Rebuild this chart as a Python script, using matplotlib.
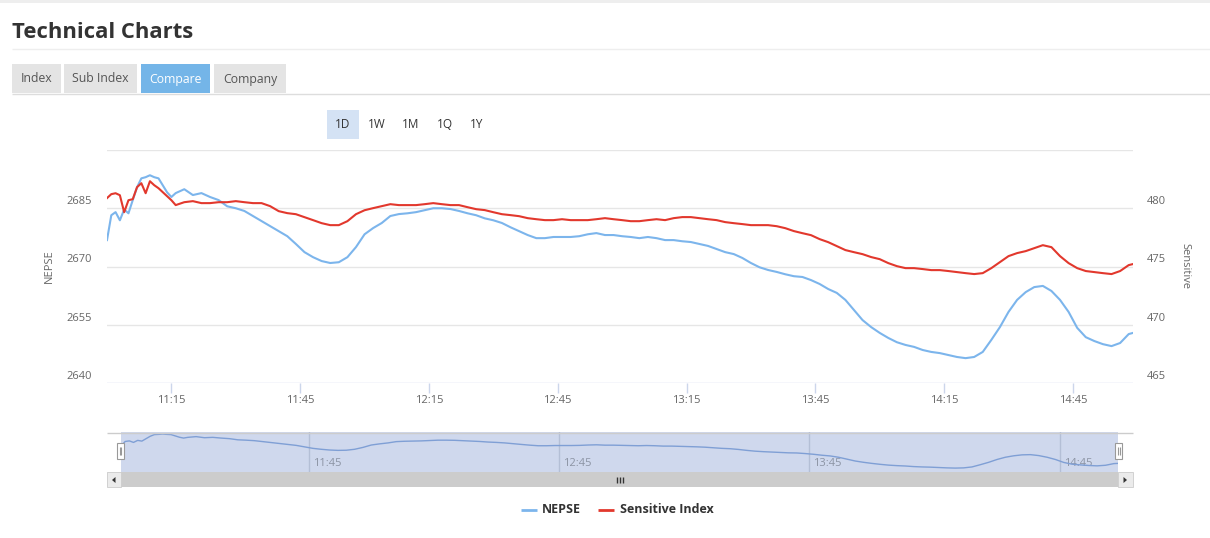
import matplotlib
matplotlib.use('Agg')
import matplotlib.pyplot as plt
from matplotlib.patches import Rectangle, Polygon
from matplotlib.lines import Line2D

plt.rcParams['font.family'] = ['Open Sans', 'DejaVu Sans']

# ---------------- data ----------------
# minutes after 11:00
minutes = [*range(0, 17), *range(18, 239, 2), 239]

nepse = [2676.8, 2683.2, 2684.0, 2681.9, 2684.7, 2683.7, 2687.1, 2690.4, 2692.7, 2693.0,
         2693.5, 2693.0, 2692.7, 2690.9, 2689.1, 2687.9, 2688.9,
         2689.9, 2688.4, 2688.9, 2687.9, 2687.1, 2685.5, 2685.0, 2684.3, 2683.0, 2681.7,
         2680.4, 2679.1, 2677.8, 2675.8, 2673.7, 2672.4, 2671.4, 2670.9, 2671.1, 2672.4,
         2675.0, 2678.3, 2679.9, 2681.2, 2683.0, 2683.5,
         2683.7, 2684.0, 2684.5, 2685.0, 2685.0, 2684.8, 2684.3, 2683.7, 2683.2, 2682.4,
         2681.9, 2681.2, 2680.1, 2679.1, 2678.1, 2677.3, 2677.3, 2677.6, 2677.6, 2677.6,
         2677.8, 2678.3, 2678.6, 2678.1, 2678.1, 2677.8, 2677.6, 2677.3, 2677.6, 2677.3,
         2676.8, 2676.8, 2676.5, 2676.3, 2675.8, 2675.3, 2674.5, 2673.7, 2673.2, 2672.2,
         2670.9, 2669.8, 2669.1, 2668.6, 2668.0, 2667.5, 2667.3, 2666.5, 2665.5, 2664.2,
         2663.2, 2661.4, 2658.8, 2656.2, 2654.4, 2652.9, 2651.6, 2650.5, 2649.8, 2649.3,
         2648.5, 2648.0, 2647.7, 2647.2, 2646.7, 2646.4, 2646.7, 2648.0, 2651.1, 2654.4,
         2658.3, 2661.4, 2663.4, 2664.7, 2665.0, 2663.7, 2661.4, 2658.3, 2654.2, 2651.8,
         2650.8, 2650.0, 2649.5, 2650.3, 2652.6,
         2652.9]

sensitive = [480.87, 481.21, 481.29, 481.12, 479.66, 480.69, 480.78, 481.81, 482.15, 481.29,
             482.32, 481.98, 481.72, 481.38, 481.04, 480.69, 480.27,
             480.52, 480.61, 480.44, 480.44, 480.52, 480.52, 480.61, 480.52, 480.44, 480.44,
             480.18, 479.75, 479.58, 479.49, 479.24, 478.98, 478.72, 478.55, 478.55, 478.89,
             479.49, 479.83, 480.01, 480.18, 480.35, 480.27,
             480.27, 480.27, 480.35, 480.44, 480.35, 480.27, 480.27, 480.09, 479.92, 479.84,
             479.66, 479.49, 479.41, 479.32, 479.15, 479.06, 478.98, 478.98, 479.06, 478.98,
             478.98, 478.98, 479.06, 479.15, 479.06, 478.98, 478.89, 478.89, 478.98, 479.06,
             478.98, 479.15, 479.24, 479.24, 479.15, 479.06, 478.98, 478.81, 478.72, 478.64,
             478.55, 478.55, 478.55, 478.46, 478.29, 478.04, 477.86, 477.69, 477.35, 477.09,
             476.75, 476.41, 476.23, 476.06, 475.81, 475.63, 475.29, 475.03, 474.86, 474.86,
             474.78, 474.69, 474.69, 474.61, 474.52, 474.43, 474.35, 474.43, 474.86, 475.38,
             475.89, 476.15, 476.32, 476.58, 476.83, 476.66, 475.89, 475.29, 474.86, 474.61,
             474.52, 474.43, 474.35, 474.61, 475.12,
             475.21]

x_tick_labels = ['11:15', '11:45', '12:15', '12:45', '13:15', '13:45', '14:15', '14:45']
nav_tick_labels = ['11:45', '12:45', '13:45', '14:45']
left_ticks = [2640, 2655, 2670, 2685]
right_ticks = [465, 470, 475, 480]
tab_labels = ['Index', 'Sub Index', 'Compare', 'Company']
range_labels = ['1D', '1W', '1M', '1Q', '1Y']
series_names = ['NEPSE', 'Sensitive Index']

assert len(minutes) == len(nepse) == len(sensitive)

BLUE = '#7cb5ec'
RED = '#e2382d'

# ---------------- helpers ----------------
W, H = 1210, 538
fig = plt.figure(figsize=(W / 100, H / 100), dpi=100)
fig.patch.set_facecolor('white')


def to_min(s):
    h, m = map(int, s.split(':'))
    return (h - 11) * 60 + m


def fbox(x0, y0, x1, y1):
    return [x0 / W, 1 - y1 / H, (x1 - x0) / W, (y1 - y0) / H]


def rect(x0, y0, x1, y1, fc, ec='none', lw=0, z=1):
    fig.add_artist(Rectangle((x0 / W, 1 - y1 / H), (x1 - x0) / W, (y1 - y0) / H,
                             transform=fig.transFigure, facecolor=fc, edgecolor=ec,
                             linewidth=lw, zorder=z))


def fline(xs, ys, color, lw=1, z=2):
    fig.add_artist(Line2D([x / W for x in xs], [1 - y / H for y in ys],
                          transform=fig.transFigure, color=color, lw=lw, zorder=z,
                          solid_capstyle='butt'))


def txt(x, y, s, **kw):
    fig.text(x / W, 1 - y / H, s, **kw)


# ---------------- page chrome ----------------
rect(0, 0, W, 3, '#eeeeee')
txt(12, 32, 'Technical Charts', fontsize=15.8, fontweight='bold', color='#333333',
    ha='left', va='center')
fline([12, W], [48.5, 48.5], '#eeeeee')

tab_spans = [(12, 61), (64, 137), (141, 210), (214, 286)]
for lab, (a, b) in zip(tab_labels, tab_spans):
    active = lab == 'Compare'
    rect(a, 64, b, 93, '#74b5e8' if active else '#e4e4e4')
    txt((a + b) / 2, 79, lab, fontsize=8.8, color='white' if active else '#555555',
        ha='center', va='center')
fline([12, W], [93.5, 93.5], '#dddddd')

range_x = [343, 377, 411, 445, 477]
rect(327, 110, 359, 139, '#d4e2f4')
for lab, xc in zip(range_labels, range_x):
    txt(xc, 125, lab, fontsize=8.5, color='#333333', ha='center', va='center')

# ---------------- main chart ----------------
ax = fig.add_axes(fbox(107, 150, 1133, 383))
ax2 = ax.twinx()
for a in (ax, ax2):
    for s in a.spines.values():
        s.set_visible(False)
    a.set_facecolor('none')

ax.set_xlim(minutes[0], minutes[-1])
ax.set_ylim(2640, 2700)
ax2.set_ylim(465, 485)

for v in left_ticks[1:] + [2700]:
    ax.axhline(v, color='#e6e6e6', lw=1, zorder=0)
ax.axhline(2640, color='#ccd6eb', lw=1, zorder=1)

ax.plot(minutes, nepse, color=BLUE, lw=1.5, zorder=3, solid_joinstyle='round')
ax2.plot(minutes, sensitive, color=RED, lw=1.5, zorder=3, solid_joinstyle='round')

ax.set_xticks([to_min(s) for s in x_tick_labels])
ax.set_xticklabels(x_tick_labels)
ax.tick_params(axis='x', length=7.2, width=1, color='#ccd6eb', labelsize=8,
               labelcolor='#666666', pad=1.5)
ax.set_yticks([])
ax2.set_yticks([])

for v in left_ticks:
    ax.annotate(str(v), xy=(0, v), xycoords=ax.get_yaxis_transform(),
                xytext=(-15, 6.5), textcoords='offset pixels', ha='right', va='center',
                fontsize=8, color='#666666')
for v in right_ticks:
    ax2.annotate(str(v), xy=(1, v), xycoords=ax2.get_yaxis_transform(),
                 xytext=(14, 6.5), textcoords='offset pixels', ha='left', va='center',
                 fontsize=8, color='#666666')

txt(49, 266, 'NEPSE', fontsize=8, color='#666666', rotation=90, ha='center', va='center')
txt(1185, 266, 'Sensitive', fontsize=8, color='#666666', rotation=-90, ha='center',
    va='center')

# ---------------- navigator ----------------
fline([107, 1133], [432.5, 432.5], '#cccccc')
nav = fig.add_axes(fbox(121, 432, 1118, 472))
nav.set_facecolor('#cfd8ed')
for s in nav.spines.values():
    s.set_visible(False)
nav.set_xlim(minutes[0], minutes[-1])
nav.set_ylim(2641, 2696.3)
nav.set_xticks([])
nav.set_yticks([])
for lab in nav_tick_labels:
    m = to_min(lab)
    nav.axvline(m, color='#b4bfd6', lw=1, zorder=1)
    nav.annotate(lab, xy=(m, 0), xycoords=nav.get_xaxis_transform(), xytext=(4, 9),
                 textcoords='offset pixels', ha='left', va='center', fontsize=8,
                 color='#8c94a4', zorder=2)
nav.plot(minutes, nepse, color='#7f9fd5', lw=1, zorder=3)

# handles
for hx in (120.5, 1118.5):
    rect(hx - 3.5, 443, hx + 3.5, 459, 'white', '#999999', 0.8, z=5)
    fline([hx - 1, hx - 1], [447, 455], '#999999', 0.8, z=6)
    fline([hx + 1, hx + 1], [447, 455], '#999999', 0.8, z=6)

# scrollbar
rect(107, 472, 1133, 487, '#f2f2f2', z=1)
rect(121, 472, 1118, 487, '#cccccc', z=2)
for gx in (617, 620, 623):
    fline([gx, gx], [477, 483], '#333333', 1, z=3)
rect(107, 472, 121, 487, '#ebebeb', '#cccccc', 0.6, z=3)
rect(1118, 472, 1133, 487, '#ebebeb', '#cccccc', 0.6, z=3)
fig.add_artist(Polygon([[(115.5) / W, 1 - 477 / H], [(115.5) / W, 1 - 483 / H],
                        [(112) / W, 1 - 480 / H]], closed=True, transform=fig.transFigure,
                       facecolor='#333333', edgecolor='none', zorder=4))
fig.add_artist(Polygon([[(1123.5) / W, 1 - 477 / H], [(1123.5) / W, 1 - 483 / H],
                        [(1127) / W, 1 - 480 / H]], closed=True, transform=fig.transFigure,
                       facecolor='#333333', edgecolor='none', zorder=4))

# ---------------- legend ----------------
fline([521, 537], [509.5, 509.5], BLUE, 2)
txt(542, 509.5, series_names[0], fontsize=9, fontweight='bold', color='#333333',
    ha='left', va='center')
fline([598, 614], [509.5, 509.5], RED, 2)
txt(620, 509.5, series_names[1], fontsize=9, fontweight='bold', color='#333333',
    ha='left', va='center')

fig.savefig('out.png', dpi=100, facecolor='white')
